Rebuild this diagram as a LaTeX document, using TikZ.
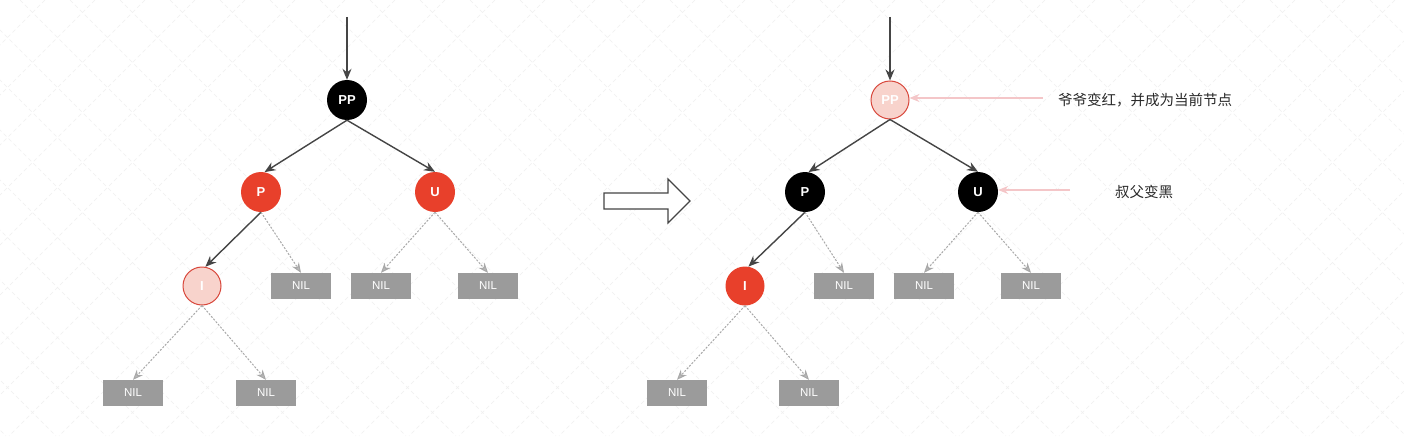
\documentclass[tikz,border=0pt]{standalone}
\usepackage{fontspec}
\setmainfont{Liberation Sans}
\newfontfamily\cjk{Noto Sans CJK SC}
\usetikzlibrary{arrows.meta}
\definecolor{rbred}{HTML}{E8402B}
\definecolor{rbpale}{HTML}{F8D3CC}
\definecolor{rbpaleb}{HTML}{D8473B}
\definecolor{nilgray}{HTML}{9B9B9B}
\definecolor{linegray}{HTML}{454545}
\definecolor{dashgray}{HTML}{A8A8A8}
\definecolor{pinkline}{HTML}{F4C6C8}
\definecolor{txtgray}{HTML}{2A2A2A}
\tikzset{
  rbnode/.style={circle, minimum size=40pt, inner sep=0pt, text=white, font=\bfseries\fontsize{13}{15}\selectfont},
  blacknode/.style={rbnode, fill=black},
  rednode/.style={rbnode, fill=rbred},
  palenode/.style={rbnode, fill=rbpale, draw=rbpaleb, line width=1pt, minimum size=38pt},
  nilbox/.style={rectangle, fill=nilgray, minimum width=60pt, minimum height=26pt, inner sep=0pt, text=white, font=\fontsize{11.5}{13}\selectfont},
  solidarr/.style={draw=linegray, line width=1.4pt, -{Stealth[length=11pt,width=9pt]}},
  dasharr/.style={draw=dashgray, line width=1pt, dash pattern=on 2pt off 1.5pt, -{Stealth[length=10pt,width=8pt,fill=dashgray!80]}},
  pinkarr/.style={draw=pinkline, line width=1.1pt, -{Stealth[length=10pt,width=8pt]}},
  note/.style={text=txtgray, font=\cjk\fontsize{14.5}{17}\selectfont, anchor=west, inner sep=0pt},
  gridline/.style={draw=black!6, line width=0.6pt, dash pattern=on 4pt off 3pt}
}
\begin{document}
\begin{tikzpicture}[x=1pt,y=-1pt]
\fill[white] (0,0) rectangle (1404,436);
\useasboundingbox (0,0) rectangle (1404,436);
\begin{scope}
\clip (0,0) rectangle (1404,436);
\foreach \c in {-455,-405,...,1845} {
  \draw[gridline] (\c,0) -- (\c-436,436);
}
\foreach \c in {-430,-380,...,1420} {
  \draw[gridline] (\c,0) -- (\c+436,436);
}
\end{scope}

% ---------- left tree ----------
\coordinate (L-top) at (347,17);
\node[blacknode] (L-PP) at (347,100) {PP};
\node[rednode] (L-P) at (261,192) {P};
\node[rednode] (L-U) at (435,192) {U};
\node[palenode] (L-I) at (202,286) {I};
\node[nilbox] (L-N1) at (301,286) {NIL};
\node[nilbox] (L-N2) at (381,286) {NIL};
\node[nilbox] (L-N3) at (488,286) {NIL};
\node[nilbox] (L-N4) at (133,393) {NIL};
\node[nilbox] (L-N5) at (266,393) {NIL};
\draw[solidarr] (L-top) -- (L-PP.north);
\draw[solidarr] (L-PP.south) -- (L-P.80);
\draw[solidarr] (L-PP.south) -- (L-U.north);
\draw[solidarr] (L-P.south) -- (L-I.80);
\draw[dasharr] (L-P.south) -- (L-N1.north);
\draw[dasharr] (L-U.south) -- (L-N2.north);
\draw[dasharr] (L-U.south) -- (L-N3.north);
\draw[dasharr] (L-I.south) -- (L-N4.north);
\draw[dasharr] (L-I.south) -- (L-N5.north);

% ---------- hollow arrow ----------
\draw[draw=linegray, line width=1.2pt, fill=white, line join=miter]
  (604,193) -- (668,193) -- (668,179) -- (690,201) -- (668,223) -- (668,209) -- (604,209) -- cycle;

% ---------- right tree ----------
\coordinate (R-top) at (890,17);
\node[palenode] (R-PP) at (890,100) {PP};
\node[blacknode] (R-P) at (805,192) {P};
\node[blacknode] (R-U) at (978,192) {U};
\node[rednode, minimum size=39pt] (R-I) at (745,286) {I};
\node[nilbox] (R-N1) at (844,286) {NIL};
\node[nilbox] (R-N2) at (924,286) {NIL};
\node[nilbox] (R-N3) at (1031,286) {NIL};
\node[nilbox] (R-N4) at (677,393) {NIL};
\node[nilbox] (R-N5) at (809,393) {NIL};
\draw[solidarr] (R-top) -- (R-PP.north);
\draw[solidarr] (R-PP.south) -- (R-P.80);
\draw[solidarr] (R-PP.south) -- (R-U.north);
\draw[solidarr] (R-P.south) -- (R-I.80);
\draw[dasharr] (R-P.south) -- (R-N1.north);
\draw[dasharr] (R-U.south) -- (R-N2.north);
\draw[dasharr] (R-U.south) -- (R-N3.north);
\draw[dasharr] (R-I.south) -- (R-N4.north);
\draw[dasharr] (R-I.south) -- (R-N5.north);

% ---------- notes ----------
\node[note] (T1) at (1058,100) {爷爷变红，并成为当前节点};
\node[note] (T2) at (1115,192) {叔父变黑};
\coordinate (A1) at (1043,98);
\coordinate (A2) at (1070,190);
\draw[pinkarr] (A1) -- (R-PP.east |- A1);
\draw[pinkarr] (A2) -- (R-U.east |- A2);
\end{tikzpicture}
\end{document}
